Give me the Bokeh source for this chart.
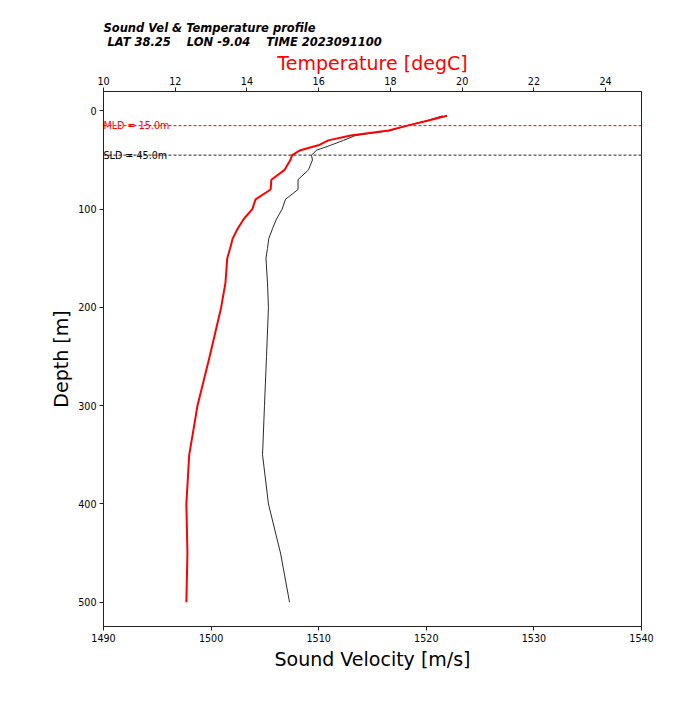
from bokeh.plotting import figure
from bokeh.models import Range1d, LinearAxis, FixedTicker, Span, Label, Title
from bokeh.embed import file_html
from bokeh.resources import INLINE

# ---- data ----
depth_m = [5, 10, 15, 20, 25, 30, 35, 40, 45, 50, 60, 70, 80, 90, 100, 110, 120,
           130, 140, 150, 175, 200, 250, 300, 350, 400, 450, 500]
temperature_degc = [19.58, 19.03, 18.47, 17.95, 16.89, 16.27, 15.99, 15.49, 15.26, 15.21,
                    15.05, 14.68, 14.66, 14.24, 14.15, 13.91, 13.74, 13.60, 13.53, 13.45,
                    13.40, 13.28, 12.96, 12.62, 12.39, 12.31, 12.34, 12.31]
sound_velocity_ms = [1521.5, 1520.08, 1518.22, 1516.67, 1513.42, 1512.3, 1511.1, 1509.8, 1509.33, 1509.42,
                     1509.05, 1508.08, 1508.08, 1506.91, 1506.6, 1506.08, 1505.7, 1505.36, 1505.24, 1505.1,
                     1505.24, 1505.33, 1505.15, 1504.96, 1504.78, 1505.33, 1506.45, 1507.29]
mld_depth = 15.0
sld_depth = 45.0
sv_ticks = [1490, 1500, 1510, 1520, 1530, 1540]
temp_ticks = [10, 12, 14, 16, 18, 20, 22, 24]
depth_ticks = [0, 100, 200, 300, 400, 500]
lat, lon, time_str = "38.25", "-9.04", "2023091100"

FONT = "DejaVu Sans"
AX = "#222222"

p = figure(width=689, height=695, output_backend="svg", toolbar_location=None,
           x_range=Range1d(1490, 1540), y_range=Range1d(524.75, -19.75),
           min_border_left=103, min_border_right=48, min_border_top=91, min_border_bottom=69,
           background_fill_color="white", border_fill_color="white")
p.extra_x_ranges = {"temp": Range1d(10, 25)}

p.xgrid.visible = False
p.ygrid.visible = False
p.outline_line_color = AX
p.outline_line_width = 1


def style_axis(ax, label, label_color="black", label_standoff=3):
    ax.axis_label = label
    ax.axis_label_text_font = FONT
    ax.axis_label_text_font_size = "19px"
    ax.axis_label_text_font_style = "normal"
    ax.axis_label_text_color = label_color
    ax.major_label_text_font = FONT
    ax.major_label_text_font_size = "9.6px"
    ax.major_label_text_color = "black"
    ax.axis_line_color = AX
    ax.major_tick_line_color = AX
    ax.minor_tick_line_color = None
    ax.major_tick_in = 0
    ax.major_tick_out = 4
    ax.major_label_standoff = 3
    ax.axis_label_standoff = label_standoff


xb = p.xaxis[0]
style_axis(xb, "Sound Velocity [m/s]", label_standoff=3)
xb.ticker = FixedTicker(ticks=sv_ticks)

yl = p.yaxis[0]
style_axis(yl, "Depth [m]")
yl.ticker = FixedTicker(ticks=depth_ticks)

xt = LinearAxis(x_range_name="temp")
style_axis(xt, "Temperature [degC]", label_color="red", label_standoff=0)
xt.ticker = FixedTicker(ticks=temp_ticks)
p.add_layout(xt, "above")

title = Title(text=("Sound Vel & Temperature profile\n"
                    f"\u00a0LAT {lat}\u00a0\u00a0\u00a0\u00a0LON {lon}\u00a0\u00a0\u00a0\u00a0TIME {time_str}"),
              align="left", offset=0, standoff=0,
              text_font=FONT, text_font_size="11.5px", text_font_style="bold italic",
              text_color="black", text_line_height=1.0)
p.add_layout(title, "above")
# empty spacer title above the real one (pushes the title block down)
spacer = Title(text="\u00a0", text_font_size="14px", standoff=0)
p.add_layout(spacer, "above")

# profiles
p.line(sound_velocity_ms, depth_m, line_color="#2a2a2a", line_width=1)
p.line(temperature_degc, depth_m, x_range_name="temp", line_color="red", line_width=2)

# MLD / SLD markers
p.add_layout(Span(location=mld_depth, dimension="width", line_color="red",
                  line_width=1, line_dash="3 2"))
p.add_layout(Span(location=sld_depth, dimension="width", line_color="#222222",
                  line_width=1, line_dash="3 2"))
p.add_layout(Label(x=1490, y=mld_depth, text=f"MLD = {mld_depth:.1f}m", text_color="red",
                   text_font=FONT, text_font_size="9.6px", text_baseline="alphabetic"))
p.add_layout(Label(x=1490, y=sld_depth, text=f"SLD = {sld_depth:.1f}m", text_color="black",
                   text_font=FONT, text_font_size="9.6px", text_baseline="alphabetic"))

open("out.html", "w").write(file_html(p, INLINE))
